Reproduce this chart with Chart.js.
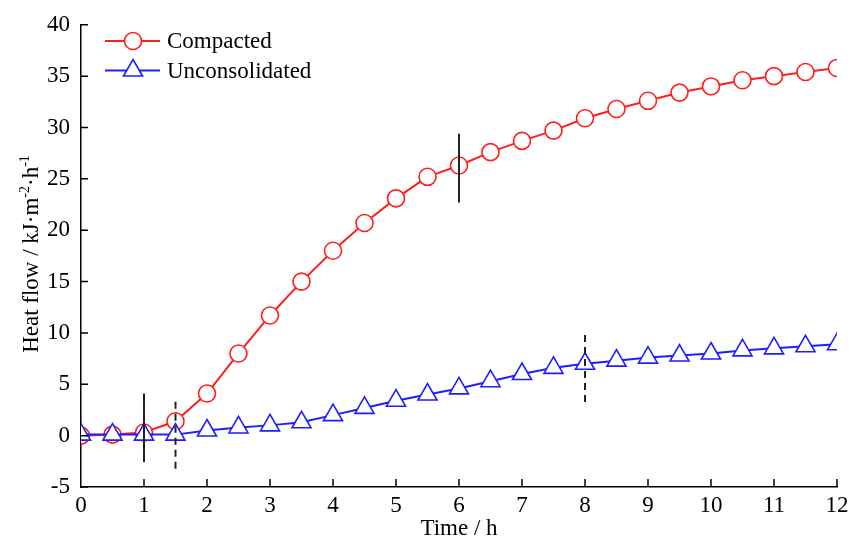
<!DOCTYPE html>
<html>
<head>
<meta charset="utf-8">
<script src="https://cdn.jsdelivr.net/npm/chart.js@4/dist/chart.umd.min.js"></script>
<style>
html,body{margin:0;padding:0;background:#fff;}
#wrap{width:862px;height:543px;position:relative;}
</style>
</head>
<body>
<div id="wrap"><canvas id="c" width="862" height="543"></canvas></div>
<script>
// ---- data ----
const timeH = [0,0.5,1,1.5,2,2.5,3,3.5,4,4.5,5,5.5,6,6.5,7,7.5,8,8.5,9,9.5,10,10.5,11,11.5,12];
const compacted = [0.0,0.1,0.3,1.4,4.1,8.0,11.7,15.0,18.0,20.7,23.1,25.2,26.3,27.6,28.7,29.7,30.9,31.8,32.6,33.4,34.0,34.6,35.0,35.4,35.8];
const unconsolidated = [0.1,0.1,0.1,0.1,0.5,0.8,1.0,1.3,2.0,2.7,3.4,4.0,4.6,5.3,6.0,6.6,7.0,7.3,7.6,7.8,8.0,8.3,8.5,8.7,8.9];
const seriesNames = ['Compacted','Unconsolidated'];
// vertical marker bars: [x, yTop, yBottom]
const solidBars = [[1,4.1,-2.6],[6,29.4,22.7]];
const dashedBars = [[1.5,3.3,-3.3],[8,9.8,3.2]];
const yTicks = [-5,0,5,10,15,20,25,30,35,40];
const xTicks = [0,1,2,3,4,5,6,7,8,9,10,11,12];
const xTitle = 'Time / h';

const RED = '#ff1e1e', BLUE = '#1e1eff', BARC = '#222222';
const FONT = 'Liberation Serif, "Times New Roman", serif';
const FS = 23;

const pts = (xs, ys) => xs.map((x,i)=>({x:x,y:ys[i]}));

const datasets = [];
solidBars.forEach(b=>datasets.push({type:'line',data:[{x:b[0],y:b[1]},{x:b[0],y:b[2]}],borderColor:BARC,borderWidth:2,pointRadius:0,order:0,isBar:true}));
dashedBars.forEach(b=>datasets.push({type:'line',data:[{x:b[0],y:b[1]},{x:b[0],y:b[2]}],borderColor:BARC,borderWidth:2,borderDash:[7,5],pointRadius:0,order:0,isBar:true}));
datasets.push({label:seriesNames[0],data:pts(timeH,compacted),borderColor:RED,borderWidth:2,pointStyle:'circle',pointRadius:8.5,pointBorderWidth:1.6,pointBackgroundColor:'#fff',pointBorderColor:RED,order:2});
datasets.push({label:seriesNames[1],data:pts(timeH,unconsolidated),borderColor:BLUE,borderWidth:2,pointStyle:'triangle',pointRadius:11,pointBorderWidth:1.6,pointBackgroundColor:'#fff',pointBorderColor:BLUE,order:1});

const decor = {
  id:'decor',
  afterDraw(chart){
    const ctx = chart.ctx, xs = chart.scales.x, ys = chart.scales.y, a = chart.chartArea;
    ctx.save();
    // inward ticks
    ctx.strokeStyle = '#000'; ctx.lineWidth = 1.5;
    ctx.beginPath();
    yTicks.forEach(v=>{const y=ys.getPixelForValue(v); ctx.moveTo(a.left, y); ctx.lineTo(a.left+7, y);});
    xTicks.forEach(v=>{if(v===0)return; const x=xs.getPixelForValue(v); ctx.moveTo(x, a.bottom); ctx.lineTo(x, a.bottom-8);});
    ctx.stroke();
    // legend
    const series = chart.data.datasets.filter(d=>!d.isBar);
    series.forEach((d,i)=>{
      const y = 41 + i*29.5;
      ctx.strokeStyle = d.borderColor; ctx.lineWidth = 2;
      ctx.beginPath(); ctx.moveTo(105,y); ctx.lineTo(160,y); ctx.stroke();
      ctx.fillStyle='#fff'; ctx.strokeStyle=d.pointBorderColor; ctx.lineWidth=1.6;
      ctx.beginPath();
      if(d.pointStyle==='circle'){ ctx.arc(133,y,8.5,0,Math.PI*2); }
      else { const r=11; ctx.moveTo(133, y - r); ctx.lineTo(133 + r*Math.sin(Math.PI/3), y + r*0.5); ctx.lineTo(133 - r*Math.sin(Math.PI/3), y + r*0.5); ctx.closePath(); }
      ctx.fill(); ctx.stroke();
      ctx.fillStyle='#000'; ctx.font = FS+'px '+FONT; ctx.textBaseline='middle'; ctx.textAlign='left';
      ctx.fillText(d.label, 167, y+1);
    });
    // y-axis title with superscripts
    ctx.translate(38, 254); ctx.rotate(-Math.PI/2);
    const parts = [['Heat flow / kJ·m',false],['-2',true],['·h',false],['-1',true]];
    const fN = FS+'px '+FONT, fS = Math.round(FS*0.62)+'px '+FONT;
    let total = 0;
    parts.forEach(p=>{ctx.font = p[1]?fS:fN; total += ctx.measureText(p[0]).width;});
    let x = -total/2;
    ctx.textBaseline='alphabetic'; ctx.textAlign='left'; ctx.fillStyle='#000';
    parts.forEach(p=>{ctx.font = p[1]?fS:fN; ctx.fillText(p[0], x, p[1]?-9:0); x += ctx.measureText(p[0]).width;});
    ctx.restore();
  }
};

new Chart(document.getElementById('c'), {
  type:'line',
  data:{datasets:datasets},
  options:{
    responsive:false, animation:false,
    layout:{padding:{left:0,right:25,top:20,bottom:0}},
    plugins:{legend:{display:false},tooltip:{enabled:false}},
    scales:{
      x:{type:'linear',min:0,max:12,
        afterFit(s){s.height=56;},
        grid:{display:false,drawTicks:false},
        border:{display:true,color:'#000',width:1.5},
        ticks:{stepSize:1,color:'#000',padding:5,font:{family:FONT,size:FS},maxRotation:0,autoSkip:false},
        title:{display:true,text:xTitle,color:'#000',font:{family:FONT,size:FS},padding:{top:0,bottom:0}}
      },
      y:{type:'linear',min:-5,max:40,
        afterFit(s){s.width=81;},
        grid:{display:false,drawTicks:false},
        border:{display:true,color:'#000',width:1.5},
        ticks:{stepSize:5,color:'#000',padding:11,font:{family:FONT,size:FS}}
      }
    }
  },
  plugins:[decor]
});
</script>
</body>
</html>
